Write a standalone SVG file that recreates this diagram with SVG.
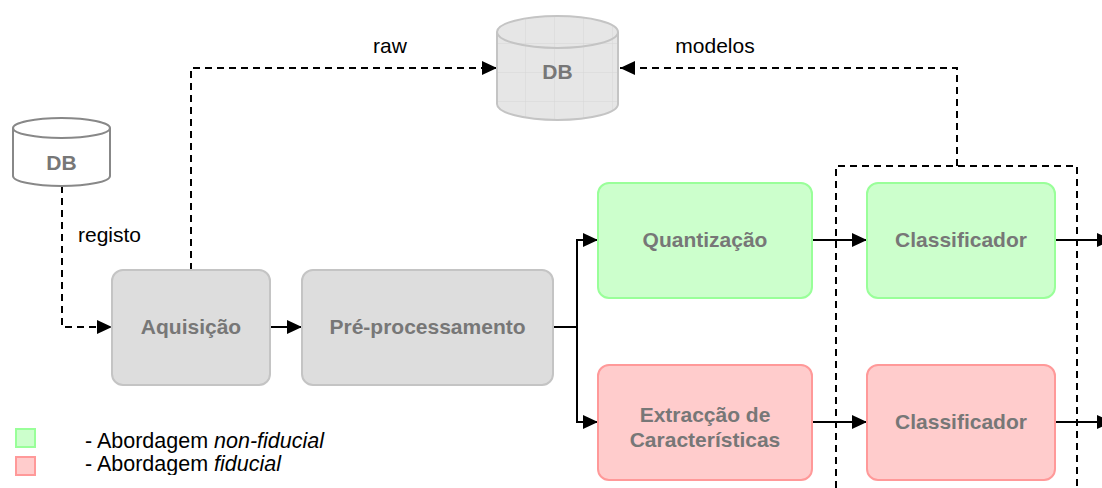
<svg xmlns="http://www.w3.org/2000/svg" width="1102" height="488" viewBox="0 0 1102 488">
<defs>
<marker id="ah" viewBox="0 0 15 14" refX="15" refY="7" markerWidth="15" markerHeight="14" markerUnits="userSpaceOnUse" orient="auto">
<path d="M0,0 L15,7 L0,14 Z" fill="#000"/>
</marker>
<pattern id="grid" width="29" height="29" patternUnits="userSpaceOnUse" x="497" y="15">
<rect width="29" height="29" fill="#e6e6e6"/>
<path d="M29,0 V29 M0,29 H29" stroke="#d6d6d6" stroke-width="1" fill="none"/>
</pattern>
<clipPath id="legclip"><rect x="0" y="400" width="400" height="75"/></clipPath>
<style>
.gray{fill:#dddddd;stroke:#c4c4c4;stroke-width:2}
.green{fill:#ccffcc;stroke:#99ff99;stroke-width:2}
.red{fill:#ffcccc;stroke:#ff9999;stroke-width:2}
.lbl{font-family:"Liberation Sans",Arial,sans-serif;font-weight:bold;font-size:21px;fill:#777777;text-anchor:middle}
.txt{font-family:"Liberation Sans",Arial,sans-serif;font-size:21px;fill:#000}
.leg{font-family:"Liberation Sans",Arial,sans-serif;font-size:21.5px;fill:#000}
.solid{stroke:#000;stroke-width:2;fill:none}
.dash{stroke:#000;stroke-width:2;fill:none;stroke-dasharray:7 5}
</style>
</defs>
<g id="connectors">
<path class="dash" d="M62,186 V327 H112" marker-end="url(#ah)"/>
<path class="dash" d="M191,270 V68 H497" marker-end="url(#ah)"/>
<path class="dash" d="M957,166 V68 H620" marker-end="url(#ah)"/>
<path class="dash" d="M836,488 V166 H1077 V488"/>
<path class="solid" d="M270,327 H302" marker-end="url(#ah)"/>
<path class="solid" d="M553,327 H577 V240 H598" marker-end="url(#ah)"/>
<path class="solid" d="M577,327 V422 H598" marker-end="url(#ah)"/>
<path class="solid" d="M812,240 H867" marker-end="url(#ah)"/>
<path class="solid" d="M812,422 H867" marker-end="url(#ah)"/>
<path class="solid" d="M1055,240 H1112" marker-end="url(#ah)"/>
<path class="solid" d="M1055,422 H1112" marker-end="url(#ah)"/>
<text class="txt" x="390" y="53" text-anchor="middle">raw</text>
<text class="txt" x="715" y="53" text-anchor="middle">modelos</text>
<text class="txt" x="78" y="242">registo</text>
</g>
<g id="db-registo">
<path d="M13,128 V176 A48.5,10 0 0 0 110,176 V128" fill="#fff" stroke="#888" stroke-width="2"/>
<ellipse cx="61.5" cy="128" rx="48.5" ry="10" fill="#fff" stroke="#888" stroke-width="2"/>
<text class="lbl" x="61.5" y="170">DB</text>
</g>
<g id="db-central">
<path d="M497,32 V104 A60.5,16 0 0 0 618,104 V32" fill="url(#grid)" stroke="#c4c4c4" stroke-width="2"/>
<ellipse cx="557.5" cy="32" rx="60.5" ry="16" fill="url(#grid)" stroke="#c4c4c4" stroke-width="2"/>
<text class="lbl" x="557.5" y="79">DB</text>
</g>
<g id="aquisicao">
<rect class="gray" x="112" y="270" width="158" height="115" rx="11"/>
<text class="lbl" x="191" y="334">Aquisição</text>
</g>
<g id="preprocessamento">
<rect class="gray" x="302" y="270" width="251" height="115" rx="11"/>
<text class="lbl" x="427.5" y="334">Pré-processamento</text>
</g>
<g id="quantizacao">
<rect class="green" x="598" y="183" width="214" height="115" rx="11"/>
<text class="lbl" x="705" y="247">Quantização</text>
</g>
<g id="extraccao">
<rect class="red" x="598" y="365" width="214" height="115" rx="11"/>
<text class="lbl" x="705" y="422">Extracção de</text>
<text class="lbl" x="705" y="447">Características</text>
</g>
<g id="classificador-nf">
<rect class="green" x="867" y="183" width="188" height="115" rx="11"/>
<text class="lbl" x="961" y="247">Classificador</text>
</g>
<g id="classificador-f">
<rect class="red" x="867" y="365" width="188" height="115" rx="11"/>
<text class="lbl" x="961" y="429">Classificador</text>
</g>
<g id="legend">
<rect class="green" x="16" y="429" width="19" height="18"/>
<rect class="red" x="16" y="457" width="19" height="18"/>
<g clip-path="url(#legclip)">
<text class="leg" x="85" y="448">- Abordagem <tspan font-style="italic">non-fiducial</tspan></text>
<text class="leg" x="85" y="471">- Abordagem <tspan font-style="italic">fiducial</tspan></text>
</g>
</g>
</svg>
